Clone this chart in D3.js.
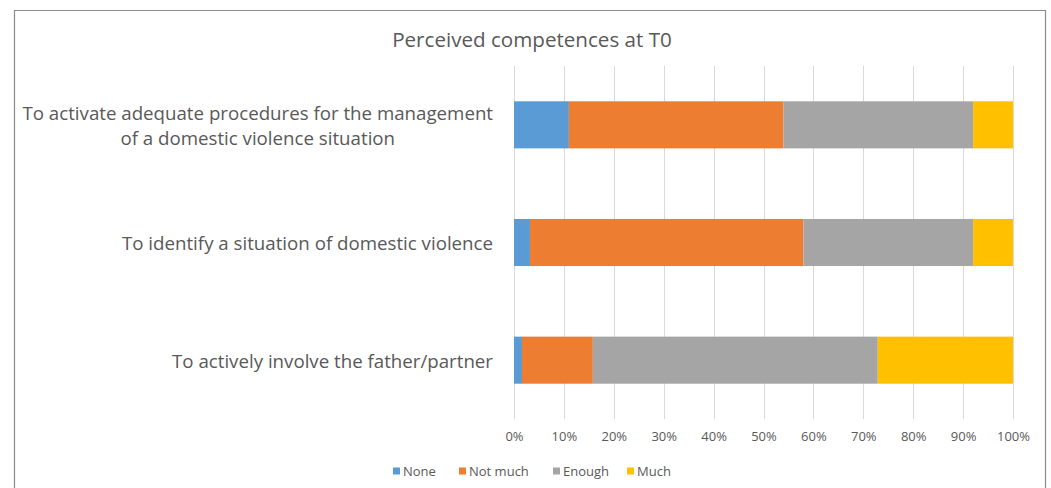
<!DOCTYPE html>
<html>
<head>
<meta charset="utf-8">
<script src="https://cdn.jsdelivr.net/npm/d3@7/dist/d3.min.js"></script>
<style>
  html, body { margin: 0; padding: 0; background: #fff; }
  svg { display: block; }
  text { font-family: "Open Sans", "Noto Sans", sans-serif; fill: #595959; }
</style>
</head>
<body>
<svg id="chart" width="1051" height="488"></svg>
<script>
// ---- data ----
const title = "Perceived competences at T0";
const categories = [
  ["To activate adequate procedures for the management", "of a domestic violence situation"],
  ["To identify a situation of domestic violence"],
  ["To actively involve the father/partner"]
];
const seriesNames = ["None", "Not much", "Enough", "Much"];
const none    = [11, 3.2, 1.6];
const notMuch = [43, 54.8, 14.2];
const enough  = [38, 34, 57.1];
const much    = [8, 8, 27.1];
const colors  = ["#5B9BD5", "#ED7D31", "#A5A5A5", "#FFC000"];
const tickValues = [0, 0.1, 0.2, 0.3, 0.4, 0.5, 0.6, 0.7, 0.8, 0.9, 1.0];

// ---- build table ----
const rows = categories.map((c, i) => {
  const tot = none[i] + notMuch[i] + enough[i] + much[i];
  return {
    key: i,
    "None": none[i] / tot,
    "Not much": notMuch[i] / tot,
    "Enough": enough[i] / tot,
    "Much": much[i] / tot
  };
});

const svg = d3.select("#chart");
const W = 1051, H = 488;

// chart border (bottom cropped)
svg.append("path")
  .attr("d", `M14.5,${H} V10.5 H1045.5 V${H}`)
  .attr("fill", "none")
  .attr("stroke", "#8c8c8c")
  .attr("stroke-width", 1.2);

// title
svg.append("text")
  .attr("x", 532).attr("y", 39)
  .attr("text-anchor", "middle")
  .attr("dominant-baseline", "central")
  .style("font-size", "20.6px")
  .text(title);

const x = d3.scaleLinear().domain([0, 1]).range([514, 1013]);
const y = d3.scaleBand().domain(rows.map(r => r.key)).range([66, 419]).paddingInner(0.6).paddingOuter(0.3);

// gridlines
svg.append("g")
  .selectAll("line")
  .data(tickValues)
  .join("line")
  .attr("x1", d => Math.round(x(d)) + 0.5)
  .attr("x2", d => Math.round(x(d)) + 0.5)
  .attr("y1", 66).attr("y2", 419)
  .attr("stroke", "#d9d9d9")
  .attr("stroke-width", 1);

// x axis labels
const xAxis = d3.axisBottom(x)
  .tickValues(tickValues)
  .tickFormat(d3.format(".0%"))
  .tickSize(0)
  .tickPadding(0);
const gx = svg.append("g").attr("transform", "translate(0,432)").call(xAxis);
gx.select(".domain").remove();
gx.selectAll("text")
  .style("font-size", "13px")
  .style("font-family", "'Open Sans', sans-serif")
  .attr("fill", "#595959");

// stacked bars
const stack = d3.stack().keys(seriesNames);
const stacked = stack(rows);
svg.append("g")
  .selectAll("g")
  .data(stacked)
  .join("g")
  .attr("fill", (d, i) => colors[i])
  .selectAll("rect")
  .data(d => d)
  .join("rect")
  .attr("x", d => x(d[0]))
  .attr("width", d => x(d[1]) - x(d[0]))
  .attr("y", d => y(d.data.key))
  .attr("height", y.bandwidth());

// category labels (multi-line centered block, right aligned)
const labelRight = 493;
const lineH = 25.5;
const lg = svg.append("g");
categories.forEach((lines, i) => {
  const cy = y(i) + y.bandwidth() / 2;
  const g = lg.append("g");
  const texts = lines.map((ln, j) => g.append("text")
    .attr("y", cy + (j - (lines.length - 1) / 2) * lineH)
    .attr("dominant-baseline", "central")
    .attr("text-anchor", "middle")
    .style("font-size", "18.7px")
    .text(ln));
  const maxW = d3.max(texts, t => t.node().getComputedTextLength());
  texts.forEach(t => t.attr("x", labelRight - maxW / 2));
});

// legend
const legendX = [393, 459, 553, 627];
const legY = 471;
const leg = svg.append("g");
seriesNames.forEach((s, i) => {
  leg.append("rect")
    .attr("x", legendX[i]).attr("y", legY - 3.5)
    .attr("width", 7).attr("height", 7)
    .attr("fill", colors[i]);
  leg.append("text")
    .attr("x", legendX[i] + 10).attr("y", legY)
    .attr("dominant-baseline", "central")
    .style("font-size", "13px")
    .text(s);
});
</script>
</body>
</html>
